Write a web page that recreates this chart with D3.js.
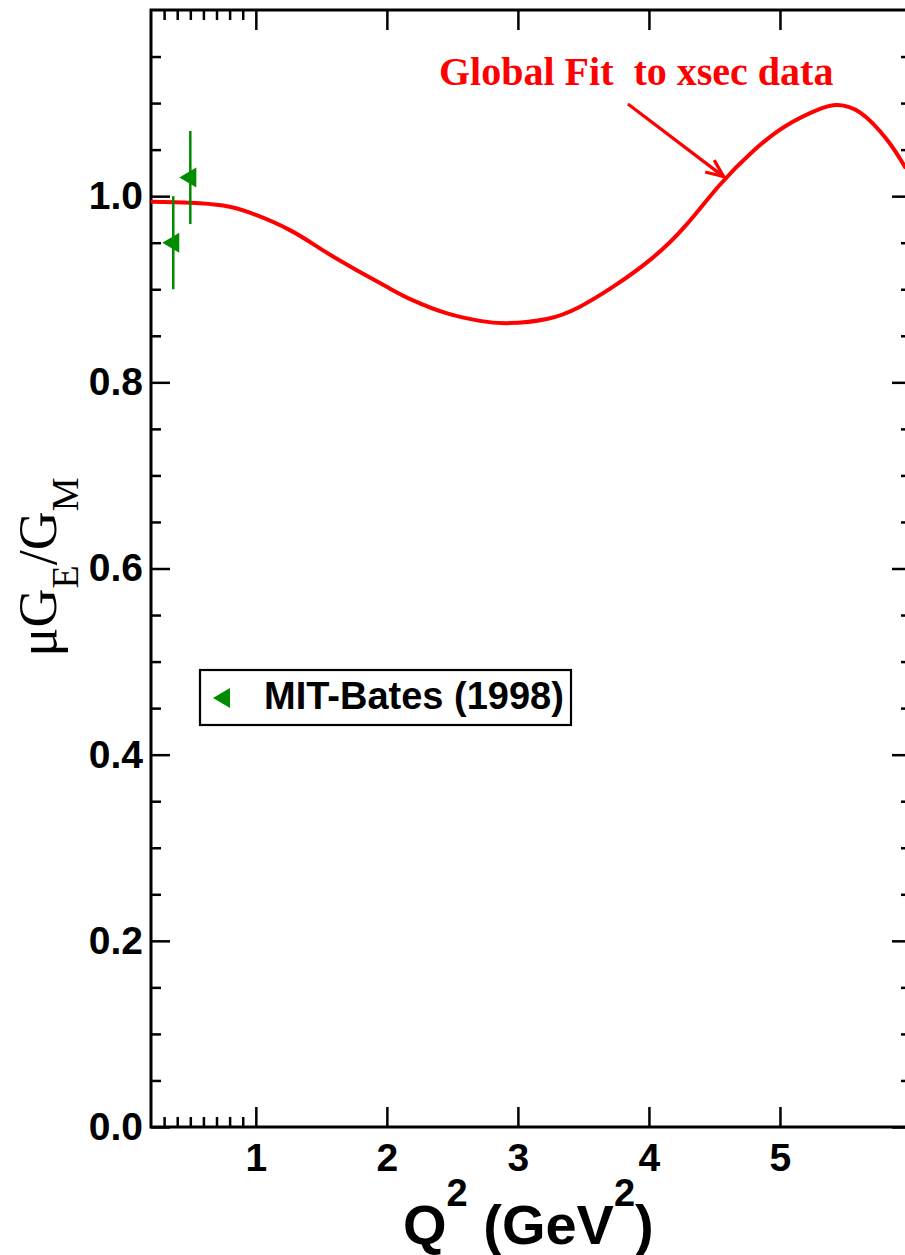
<!DOCTYPE html>
<html>
<head>
<meta charset="utf-8">
<script src="https://cdn.jsdelivr.net/npm/d3@7"></script>
<style>
  html, body { margin: 0; padding: 0; background: #fff; }
  svg { display: block; }
</style>
</head>
<body>
<div id="chart"></div>
<script>
// global fit curve (Q^2 in GeV^2, mu*GE/GM)
const fitQ2 = [0.2, 0.5, 0.75, 0.96, 1.26, 1.51, 1.77, 2.02, 2.2, 2.46, 2.71, 2.92,
  3.22, 3.47, 3.73, 4.03, 4.29, 4.54, 4.80, 5.05, 5.31, 5.44, 5.61, 5.82, 5.96];
const fitRatio = [0.994, 0.993, 0.990, 0.982, 0.9635, 0.942, 0.9205, 0.901, 0.888, 0.874, 0.866, 0.8636,
  0.868, 0.881, 0.903, 0.934, 0.970, 1.012, 1.049, 1.076, 1.094, 1.098, 1.090, 1.060, 1.030];

// MIT-Bates (1998) points
const batesQ2 = [0.37, 0.50];
const batesRatio = [0.95, 1.02];
const batesErr = [0.05, 0.05];

const xMajorTicks = [1, 2, 3, 4, 5];
const xMinorTicks = [0.3, 0.4, 0.5, 0.6, 0.7, 0.8, 0.9];
const yMajorTicks = [0, 0.2, 0.4, 0.6, 0.8, 1.0];
const yMinorTicks = [0.05, 0.1, 0.15, 0.25, 0.3, 0.35, 0.45, 0.5, 0.55, 0.65, 0.7, 0.75,
  0.85, 0.9, 0.95, 1.05, 1.1, 1.15];

const fitLabel = 'Global Fit  to xsec data';
const legendLabel = 'MIT-Bates (1998)';

const width = 905;
const height = 1255;
const plot = { left: 151, right: 911, top: 10, bottom: 1127 };

const green = '#008b00';
const sans = "'Liberation Sans', Arial, Helvetica, sans-serif";
const serif = "'Liberation Serif', 'Times New Roman', Times, serif";

const svg = d3.select('#chart')
  .append('svg')
  .attr('width', width)
  .attr('height', height)
  .attr('viewBox', '0 0 ' + width + ' ' + height);

svg.append('rect').attr('width', width).attr('height', height).attr('fill', '#fff');

const x = d3.scaleLinear().domain([0.2, 6]).range([plot.left, plot.right]);
const y = d3.scaleLinear().domain([0, 1.2]).range([plot.bottom, plot.top]);

function styleAxis(g, fontSize) {
  g.select('.domain').remove();
  g.selectAll('.tick line').attr('stroke', '#000').attr('stroke-width', 2.5);
  g.selectAll('.tick text')
    .attr('fill', '#000')
    .attr('font-family', sans)
    .attr('font-weight', 'bold')
    .attr('font-size', fontSize);
}

// bottom axis
svg.append('g')
  .attr('transform', `translate(0, ${plot.bottom})`)
  .call(d3.axisBottom(x).tickValues(xMajorTicks).tickSize(-20).tickSizeOuter(0)
    .tickPadding(16).tickFormat(d3.format('d')))
  .call(g => styleAxis(g, 39));
svg.append('g')
  .attr('transform', `translate(0, ${plot.bottom})`)
  .call(d3.axisBottom(x).tickValues(xMinorTicks).tickSize(-10).tickSizeOuter(0).tickFormat(''))
  .call(g => styleAxis(g, 39));

// top axis
svg.append('g')
  .attr('transform', `translate(0, ${plot.top})`)
  .call(d3.axisTop(x).tickValues(xMajorTicks).tickSize(-20).tickSizeOuter(0).tickFormat(''))
  .call(g => styleAxis(g, 39));
svg.append('g')
  .attr('transform', `translate(0, ${plot.top})`)
  .call(d3.axisTop(x).tickValues(xMinorTicks).tickSize(-10).tickSizeOuter(0).tickFormat(''))
  .call(g => styleAxis(g, 39));

// left axis
svg.append('g')
  .attr('transform', `translate(${plot.left}, 0)`)
  .call(d3.axisLeft(y).tickValues(yMajorTicks).tickSize(-19).tickSizeOuter(0)
    .tickPadding(8).tickFormat(d3.format('.1f')))
  .call(g => styleAxis(g, 39));
svg.append('g')
  .attr('transform', `translate(${plot.left}, 0)`)
  .call(d3.axisLeft(y).tickValues(yMinorTicks).tickSize(-10).tickSizeOuter(0).tickFormat(''))
  .call(g => styleAxis(g, 39));

// right axis
svg.append('g')
  .attr('transform', `translate(${plot.right}, 0)`)
  .call(d3.axisRight(y).tickValues(yMajorTicks).tickSize(-19).tickSizeOuter(0).tickFormat(''))
  .call(g => styleAxis(g, 39));
svg.append('g')
  .attr('transform', `translate(${plot.right}, 0)`)
  .call(d3.axisRight(y).tickValues(yMinorTicks).tickSize(-10).tickSizeOuter(0).tickFormat(''))
  .call(g => styleAxis(g, 39));

// frame
svg.append('rect')
  .attr('x', plot.left)
  .attr('y', plot.top)
  .attr('width', plot.right - plot.left)
  .attr('height', plot.bottom - plot.top)
  .attr('fill', 'none')
  .attr('stroke', '#000')
  .attr('stroke-width', 3);

// fit curve
const fitData = fitQ2.map((q, i) => [q, fitRatio[i]]);
svg.append('path')
  .datum(fitData)
  .attr('fill', 'none')
  .attr('stroke', '#ff0000')
  .attr('stroke-width', 4)
  .attr('d', d3.line().x(d => x(d[0])).y(d => y(d[1])).curve(d3.curveNatural));

// data points with error bars
const triangle = 'M-11,0 L6,-10 L6,10 Z';
const bates = batesQ2.map((q, i) => ({ q: q, v: batesRatio[i], e: batesErr[i] }));
const pts = svg.append('g').selectAll('g').data(bates).join('g');
pts.append('line')
  .attr('x1', d => x(d.q)).attr('x2', d => x(d.q))
  .attr('y1', d => y(d.v - d.e)).attr('y2', d => y(d.v + d.e))
  .attr('stroke', green)
  .attr('stroke-width', 2.5);
pts.append('path')
  .attr('d', triangle)
  .attr('transform', d => `translate(${x(d.q)}, ${y(d.v)})`)
  .attr('fill', green);

// annotation
const arrowFrom = [3.84, 1.099];
const arrowTo = [4.57, 1.021];
const ax0 = x(arrowFrom[0]), ay0 = y(arrowFrom[1]);
const ax1 = x(arrowTo[0]), ay1 = y(arrowTo[1]);
const ang = Math.atan2(ay1 - ay0, ax1 - ax0);
const headLen = 19, headAng = 23 * Math.PI / 180;
const wing = s => [ax1 - headLen * Math.cos(ang + s * headAng), ay1 - headLen * Math.sin(ang + s * headAng)];
svg.append('line')
  .attr('x1', ax0).attr('y1', ay0).attr('x2', ax1).attr('y2', ay1)
  .attr('stroke', '#ff0000').attr('stroke-width', 3.2);
svg.append('path')
  .attr('d', 'M' + wing(1) + 'L' + [ax1, ay1] + 'L' + wing(-1))
  .attr('fill', 'none')
  .attr('stroke', '#ff0000')
  .attr('stroke-width', 3.2);

svg.append('text')
  .attr('x', x(2.398))
  .attr('y', y(1.1195))
  .attr('font-family', serif)
  .attr('font-weight', 'bold')
  .attr('font-size', 40)
  .attr('fill', '#ff0000')
  .style('white-space', 'pre')
  .text(fitLabel);

// legend
const legend = svg.append('g');
legend.append('rect')
  .attr('x', 200).attr('y', 670)
  .attr('width', 371).attr('height', 55)
  .attr('fill', '#fff')
  .attr('stroke', '#000')
  .attr('stroke-width', 2.2);
legend.append('path')
  .attr('d', triangle)
  .attr('transform', 'translate(224, 698)')
  .attr('fill', green);
legend.append('text')
  .attr('x', 264).attr('y', 709)
  .attr('font-family', sans)
  .attr('font-weight', 'bold')
  .attr('font-size', 38)
  .text(legendLabel);

// axis titles
const xTitle = svg.append('text')
  .attr('x', 403).attr('y', 1244)
  .attr('font-family', sans)
  .attr('font-weight', 'bold')
  .attr('font-size', 56);
xTitle.append('tspan').text('Q');
xTitle.append('tspan').attr('font-size', 38).attr('dy', -38).text('2');
xTitle.append('tspan').attr('dy', 38).style('white-space', 'pre').text(' (GeV');
xTitle.append('tspan').attr('font-size', 38).attr('dy', -38).text('2');
xTitle.append('tspan').attr('dy', 38).text(')');

const yTitle = svg.append('text')
  .attr('transform', 'translate(56, 567) rotate(-90)')
  .attr('text-anchor', 'middle')
  .attr('font-family', serif)
  .attr('font-size', 54);
yTitle.append('tspan').text('\u03bcG');
yTitle.append('tspan').attr('font-size', 38).attr('dy', 22).text('E');
yTitle.append('tspan').attr('dy', -22).text('/G');
yTitle.append('tspan').attr('font-size', 38).attr('dy', 22).text('M');
</script>
</body>
</html>
